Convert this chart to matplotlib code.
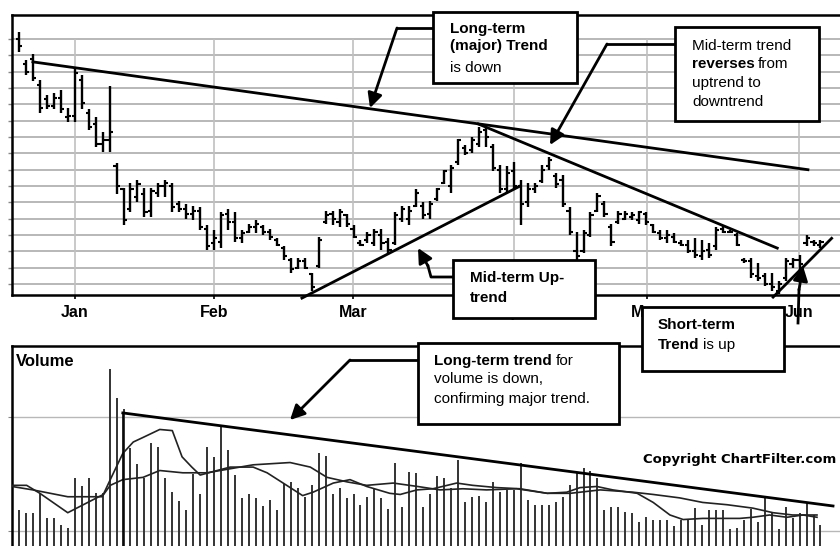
import matplotlib
matplotlib.use("Agg")
import matplotlib.pyplot as plt
from matplotlib.patches import Rectangle, FancyArrowPatch
from matplotlib.lines import Line2D
import numpy as np

plt.rcParams['font.family'] = ['Liberation Sans', 'DejaVu Sans']

# ---------------- data ----------------
months = ['Jan', 'Feb', 'Mar', 'Apr', 'May', 'Jun']
month_pos = [8.0, 28.0, 47.9, 71.0, 90.1, 111.9]   # trading-day index of month start

highs = [16.4, 14.7, 15.1, 13.5, 12.6, 12.7, 12.9, 11.8, 14.2, 13.8,
         11.7, 11.2, 10.3, 13.1, 8.4, 6.9, 7.2, 7.4, 6.9, 6.9,
         7.2, 7.4, 7.2, 6.1, 5.9, 5.8, 5.7, 4.6, 4.3, 5.4,
         5.6, 5.4, 4.3, 4.7, 4.9, 4.6, 4.4, 3.8, 3.3, 2.6,
         2.6, 2.6, 1.7, 3.9, 5.5, 5.5, 5.6, 5.3, 4.6, 3.7,
         4.2, 4.4, 4.4, 3.8, 5.4, 5.8, 5.8, 6.8, 6.0, 6.1,
         6.9, 8.0, 8.3, 9.9, 9.5, 10.0, 10.6, 10.7, 9.6, 8.3,
         8.2, 8.5, 7.4, 7.2, 7.2, 8.3, 8.8, 7.8, 7.7, 5.7,
         4.2, 4.3, 5.4, 6.6, 6.1, 4.7, 5.5, 5.5, 5.4, 5.5,
         5.4, 4.7, 4.3, 4.3, 4.1, 3.7, 3.7, 3.8, 3.7, 3.5,
         4.5, 4.6, 4.3, 4.1, 2.6, 2.6, 2.3, 1.7, 1.7, 1.2,
         2.6, 2.6, 2.8, 4.0, 3.7, 3.7]
lows = [15.2, 13.8, 13.4, 11.5, 11.7, 11.7, 11.5, 10.9, 10.9, 11.7,
        10.4, 9.4, 9.1, 9.1, 6.5, 4.6, 5.4, 6.0, 5.1, 5.1,
        6.3, 6.3, 5.4, 5.4, 5.0, 4.9, 4.3, 3.1, 3.1, 3.2,
        4.3, 3.6, 3.5, 4.1, 4.1, 4.0, 3.7, 3.3, 2.5, 1.7,
        1.9, 1.9, 0.6, 2.0, 4.7, 4.6, 4.5, 4.5, 3.8, 3.3,
        3.5, 3.3, 3.1, 2.9, 3.4, 4.8, 4.6, 5.7, 5.0, 5.0,
        6.1, 7.1, 6.6, 8.3, 8.9, 9.0, 9.4, 9.4, 7.9, 6.6,
        6.6, 6.8, 4.6, 5.7, 6.6, 7.2, 8.0, 6.9, 5.7, 4.0,
        2.5, 2.9, 3.9, 5.4, 5.1, 3.3, 4.7, 4.9, 4.9, 4.7,
        4.6, 4.1, 3.7, 3.5, 3.5, 3.3, 2.9, 2.6, 2.5, 2.6,
        3.1, 4.1, 4.1, 3.3, 2.3, 1.4, 1.2, 0.9, 0.6, 0.4,
        1.2, 2.0, 1.7, 3.3, 3.3, 3.2]
opens = [16.0, 14.5, 14.8, 13.2, 12.3, 11.9, 12.4, 11.2, 11.3, 13.5,
         11.5, 10.8, 9.6, 9.8, 8.2, 6.8, 5.6, 6.3, 6.5, 5.5,
         6.6, 7.0, 7.0, 5.9, 5.6, 5.3, 5.5, 4.4, 3.5, 3.6,
         5.3, 4.8, 3.8, 4.2, 4.5, 4.5, 4.2, 3.7, 3.2, 2.5,
         2.0, 2.4, 1.6, 2.1, 4.8, 5.3, 4.8, 5.2, 4.4, 3.5,
         3.7, 3.5, 4.0, 3.6, 3.5, 5.0, 5.0, 5.8, 5.8, 5.3,
         6.2, 7.2, 7.0, 8.5, 9.3, 9.2, 9.6, 10.4, 9.4, 8.0,
         6.8, 7.9, 7.0, 6.0, 6.8, 7.3, 8.2, 7.6, 7.4, 5.5,
         3.0, 3.0, 4.0, 5.5, 5.9, 4.5, 4.8, 5.0, 5.1, 4.9,
         5.3, 4.6, 4.1, 3.8, 3.9, 3.5, 3.4, 3.0, 2.7, 3.1,
         3.3, 4.4, 4.2, 4.0, 2.5, 2.4, 1.5, 1.5, 1.0, 0.6,
         1.4, 2.2, 2.5, 3.5, 3.6, 3.4]
closes = [15.6, 14.0, 13.6, 11.8, 11.9, 12.4, 11.7, 11.3, 13.9, 12.1,
          10.6, 9.6, 9.8, 10.3, 7.0, 4.9, 6.8, 7.1, 5.4, 6.7,
          7.0, 7.2, 5.7, 5.6, 5.3, 5.5, 4.5, 3.3, 3.8, 5.2,
          4.8, 3.8, 4.1, 4.5, 4.7, 4.2, 3.9, 3.4, 2.7, 1.9,
          2.4, 2.0, 0.8, 3.7, 5.2, 5.0, 5.4, 4.7, 3.9, 3.4,
          4.0, 4.2, 3.5, 3.1, 5.2, 5.6, 5.5, 6.6, 5.2, 5.9,
          6.8, 7.9, 8.1, 9.8, 9.0, 9.8, 10.3, 10.0, 8.1, 6.8,
          7.8, 7.0, 5.9, 6.8, 7.0, 8.0, 8.6, 7.1, 5.9, 4.2,
          2.7, 4.1, 5.2, 6.4, 5.3, 3.6, 5.3, 5.3, 5.2, 5.4,
          4.8, 4.2, 3.8, 4.0, 3.6, 3.4, 3.0, 2.8, 3.0, 2.8,
          4.3, 4.2, 4.2, 3.4, 2.4, 1.6, 1.4, 1.0, 0.8, 1.0,
          2.4, 2.5, 2.2, 3.8, 3.5, 3.6]

volume = [1180, 1160, 1160, 1330, 1110, 1110, 1050, 1030, 1460, 1390,
          1460, 1330, 1330, 2420, 2170, 2070, 1730, 1590, 1460, 1770,
          1740, 1460, 1340, 1260, 1180, 1500, 1320, 1740, 1650, 1930,
          1710, 1490, 1290, 1320, 1290, 1220, 1270, 1180, 1410, 1430,
          1380, 1300, 1400, 1680, 1660, 1320, 1380, 1290, 1320, 1230,
          1300, 1380, 1290, 1190, 1600, 1210, 1520, 1510,
          1210, 1320, 1480, 1460, 1380, 1620, 1250, 1300, 1310, 1250,
          1430, 1340, 1360, 1360, 1600, 1270, 1230, 1230, 1230, 1250,
          1300, 1400, 1510, 1550, 1530, 1460, 1180, 1210, 1210, 1170,
          1160, 1080, 1120, 1100, 1100, 1100, 1040, 1100, 1100, 1200,
          1050, 1180, 1180, 1180, 1020, 1030, 1100, 1190, 1080, 1290,
          1160, 1020, 1210, 1110, 1160, 1250, 1140, 1050]

# volume moving averages, read at points along the curves
ma_fast_x = [-1.0, 1.1, 3.0, 7.0, 12.1, 13.1, 14.9, 16.4, 17.8, 20.2,
             22.0, 23.4, 24.8, 26.0, 27.8, 30.3, 33.6, 35.6, 37.9, 40.7,
             42.2, 45.1, 47.5, 49.9, 53.2, 54.7, 57.1, 59.4, 62.8, 65.1,
             68.6, 71.9, 75.8, 78.6, 80.5, 82.9, 85.2, 88.7, 91.0, 93.4,
             95.3, 98.1, 100.6, 103.4, 105.3, 107.7, 110.2, 112.5, 114.5]
ma_fast = [1400, 1400, 1330, 1160, 1320, 1450, 1680, 1780, 1820, 1890,
           1880, 1650, 1560, 1490, 1520, 1560, 1560, 1510, 1420, 1310,
           1340, 1420, 1450, 1390, 1330, 1320, 1360, 1370, 1420, 1400,
           1380, 1370, 1330, 1340, 1380, 1390, 1360, 1330, 1250, 1140,
           1100, 1110, 1110, 1110, 1120, 1140, 1120, 1140, 1120]
ma_slow_x = [-1.0, 2.0, 7.0, 11.9, 13.1, 14.9, 17.8, 20.2, 23.5, 27.0,
             29.8, 33.6, 38.9, 41.8, 44.2, 47.1, 49.9, 53.7, 57.2, 60.4,
             63.7, 67.1, 71.4, 75.8, 79.1, 83.4, 88.1, 91.0, 94.8, 98.1,
             101.6, 105.3, 108.2, 111.0, 114.5]
ma_slow = [1390, 1360, 1300, 1300, 1400, 1450, 1470, 1530, 1510, 1510,
           1540, 1580, 1600, 1560, 1470, 1430, 1400, 1420, 1390, 1360,
           1370, 1360, 1370, 1330, 1330, 1360, 1340, 1320, 1290, 1250,
           1230, 1200, 1160, 1140, 1140]

# hand drawn trend lines (day index, value)
long_trend_x, long_trend_y = [2.0, 113.2], [14.6, 8.0]
mid_down_x, mid_down_y = [65.9, 108.8], [10.8, 3.2]
mid_up_x, mid_up_y = [40.6, 71.9], [0.14, 7.0]
short_up_x, short_up_y = [108.2, 116.6], [0.2, 3.8]
vol_trend_x, vol_trend_y = [14.9, 116.8], [2035, 1219]

W, H = 840, 546
fig = plt.figure(figsize=(W / 100, H / 100), dpi=100)
fig.patch.set_facecolor('white')

def fp(x, y):
    # pixel (from top left) -> figure fraction
    return x / W, 1 - y / H

# ---------------- price panel ----------------
ax = fig.add_axes([12 / W, 1 - 295 / H, (W - 12) / W, 280 / H])
days = np.arange(len(highs))
ax.set_xlim(-1.0, 117.8)
ax.set_ylim(0.33, 17.47)

for g in range(1, 17):
    ax.axhline(g, color='#b8b8b8', lw=1.4, zorder=0)
ax.vlines(month_pos, 0.33, 16, color='#c0c0c0', lw=1.2, zorder=0)

ax.vlines(days, lows, highs, color='black', lw=1.7, zorder=3)
ax.hlines(opens, days - 0.45, days, color='black', lw=1.5, zorder=3)
ax.hlines(closes, days, days + 0.45, color='black', lw=1.5, zorder=3)

for xs, ys in [(long_trend_x, long_trend_y), (mid_down_x, mid_down_y),
               (mid_up_x, mid_up_y), (short_up_x, short_up_y)]:
    ax.plot(xs, ys, color='black', lw=2.0, clip_on=False, zorder=4)

ax.set_xticks(month_pos)
ax.set_xticklabels(months, fontsize=11.5, fontweight='bold')
ax.set_yticks(range(1, 17))
ax.set_yticklabels([])
ax.tick_params(axis='x', length=3, width=1.2, pad=4)
ax.tick_params(axis='y', length=3, width=1.0, color='#888888')
ax.spines['right'].set_visible(False)
for s in ['top', 'left', 'bottom']:
    ax.spines[s].set_linewidth(1.8)

# ---------------- volume panel ----------------
av = fig.add_axes([12 / W, 0, (W - 12) / W, 200 / H])
av.set_xlim(-1.0, 117.8)
av.set_ylim(868, 2622)
av.axhline(1000, color='#b8b8b8', lw=1.0, zorder=0)
av.axhline(2000, color='#b8b8b8', lw=1.0, zorder=0)
av.vlines(np.arange(len(volume)), 0, volume, color='#333333', lw=1.4, zorder=2)
av.plot(ma_fast_x, ma_fast, color='#222222', lw=1.2, zorder=3)
av.plot(ma_slow_x, ma_slow, color='#222222', lw=1.2, zorder=3)
av.plot(vol_trend_x, vol_trend_y, color='black', lw=2.0, zorder=4)
av.vlines(vol_trend_x[0], 868, vol_trend_y[0], color='black', lw=1.2, zorder=4)
av.set_xticks([])
av.set_yticks([1000, 2000])
av.set_yticklabels([])
av.tick_params(axis='y', length=3, color='#888888')
av.spines['right'].set_visible(False)
av.spines['bottom'].set_visible(False)
av.spines['top'].set_linewidth(1.8)
av.spines['left'].set_linewidth(1.8)
fig.text(*fp(16, 366), 'Volume', fontsize=12, fontweight='bold', va='baseline')
fig.text(*fp(836, 463), 'Copyright ChartFilter.com', fontsize=9.5,
         fontweight='bold', family='DejaVu Sans', ha='right', va='baseline')

# ---------------- call-out boxes ----------------
renderer = fig.canvas.get_renderer()

def box(x0, y0, x1, y1):
    fig.add_artist(Rectangle(fp(x0, y1), (x1 - x0) / W, (y1 - y0) / H,
                             transform=fig.transFigure, facecolor='white',
                             edgecolor='black', lw=2.0, zorder=10))

def line(parts, x, y, size=11):
    xx = x
    for s, w in parts:
        t = fig.text(*fp(xx, y), s, fontsize=size, fontweight=w,
                     va='baseline', ha='left', zorder=12)
        bb = t.get_window_extent(renderer)
        xx = bb.x1 + 3.5

def poly(pts):
    xs = [p[0] / W for p in pts]
    ys = [1 - p[1] / H for p in pts]
    fig.add_artist(Line2D(xs, ys, transform=fig.transFigure, color='black',
                          lw=2.0, zorder=9))

def arrow(p0, p1):
    fig.add_artist(FancyArrowPatch(fp(*p0), fp(*p1), transform=fig.transFigure,
                                   arrowstyle='-|>', mutation_scale=22, lw=2.0,
                                   color='black', shrinkA=0, shrinkB=0, zorder=9))

# long-term trend
box(433, 12, 577, 83)
line([('Long-term', 'bold')], 450, 33)
line([('(major) Trend', 'bold')], 450, 50)
line([('is down', 'normal')], 450, 72)
poly([(433, 28), (397, 28)])
arrow((397, 28), (370, 108))

# mid-term reversal
box(675, 27, 819, 121)
line([('Mid-term trend', 'normal')], 692, 50)
line([('reverses', 'bold'), ('from', 'normal')], 692, 68)
line([('uptrend to', 'normal')], 692, 87)
line([('downtrend', 'normal')], 692, 106)
poly([(675, 44), (607, 44)])
arrow((607, 44), (550, 145))

# mid-term up-trend
box(453, 260, 595, 318)
line([('Mid-term Up-', 'bold')], 470, 282)
line([('trend', 'bold')], 470, 302)
poly([(453, 277), (431, 277), (428, 266)])
arrow((428, 266), (418, 248))

# short-term
box(642, 307, 784, 371)
line([('Short-term', 'bold')], 658, 329)
line([('Trend', 'bold'), ('is up', 'normal')], 658, 349)
poly([(798, 323), (799, 290)])
arrow((799, 290), (803, 266))

# volume
box(418, 343, 619, 424)
line([('Long-term trend', 'bold'), ('for', 'normal')], 434, 365)
line([('volume is down,', 'normal')], 434, 383)
line([('confirming major trend.', 'normal')], 434, 403)
poly([(418, 360), (350, 360)])
arrow((350, 360), (290, 420))

fig.savefig('out.png', dpi=100, facecolor='white')
